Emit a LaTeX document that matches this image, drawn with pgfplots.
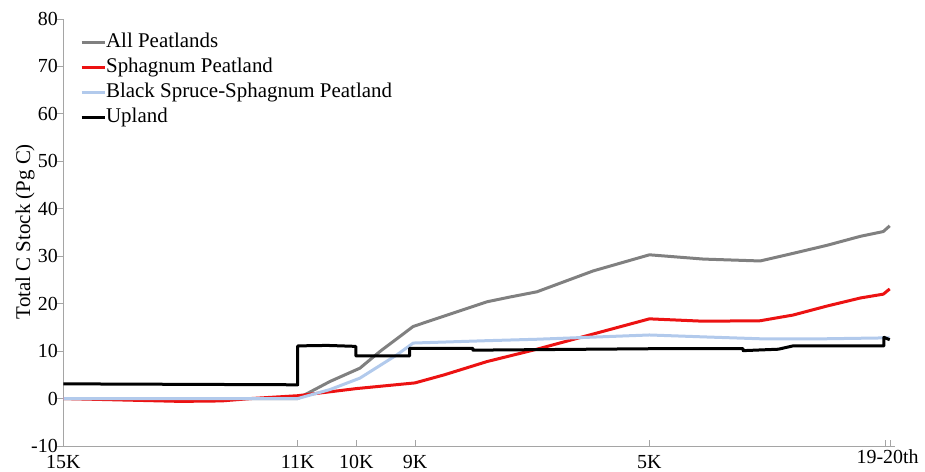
\documentclass[border=0pt]{standalone}
\usepackage{fontspec}
\setmainfont{Liberation Serif}
\usepackage{pgfplots}
\pgfplotsset{compat=1.18}
\definecolor{cgray}{RGB}{128,128,128}
\definecolor{cred}{RGB}{236,18,18}
\definecolor{cblue}{RGB}{178,202,236}
\definecolor{axgray}{RGB}{165,165,165}
\begin{document}
\begin{tikzpicture}
\begin{axis}[
  scale only axis, width=831.7bp, height=427bp,
  xmin=0, xmax=14.19, ymin=-10, ymax=80,
  axis x line*=bottom, axis y line*=left,
  axis line style={draw=axgray, line width=0.8bp},
  every axis plot/.append style={line join=round},
  tick align=outside,
  tick style={draw=axgray, line width=0.8bp},
  x tick style={yshift=6bp},
  major tick length=6bp,
  xtick={0,4,5,6,10,14.02,14.11},
  xticklabels={15K,11K,10K,9K,5K,,},
  extra x ticks={14.065}, extra x tick labels={19-20th},
  extra x tick style={major tick length=0pt},
  ytick={-10,0,10,20,30,40,50,60,70,80},
  /pgf/number format/assume math mode=true,
  tick label style={font=\fontsize{20}{22}\selectfont},
  yticklabel style={xshift=4bp},
  ylabel={Total C Stock (Pg C)},
  every axis y label/.style={at={(axis description cs:-0.046,0.502)}, rotate=90, anchor=center, font=\fontsize{21}{24}\selectfont},
  legend style={draw=none, fill=none, at={(axis description cs:0.02,0.970)}, anchor=north west, font=\fontsize{21}{24}\selectfont, inner sep=0pt, row sep=5.3bp, nodes={text height=15bp, text depth=5bp, inner sep=0pt}},
  legend cell align=left,
  legend image code/.code={\draw[#1] (0bp,0bp) -- (23bp,0bp);},
]
\addplot[cgray, line width=3bp] coordinates {
(0,0) (4,0) (4.09,0.6) (4.55,3.6) (5.06,6.4) (5.40,9.9) (5.97,15.2) (6.55,17.6) (7.23,20.4) (7.62,21.4) (8.08,22.5) (9.04,26.9) (10.0,30.3) (10.92,29.4) (11.89,29.0) (12.45,30.6) (13.03,32.3) (13.60,34.2) (13.99,35.2) (14.1,36.4)};
\addlegendentry{All Peatlands}
\addplot[cred, line width=3bp] coordinates {
(0,0) (1,-0.3) (2,-0.6) (2.7,-0.5) (3.2,0) (4,0.6) (5,2.1) (6,3.3) (6.5,5.0) (7.23,7.8) (8.08,10.4) (9.04,13.6) (10,16.8) (10.92,16.3) (11.89,16.4) (12.45,17.6) (13.03,19.5) (13.60,21.2) (13.99,22.0) (14.1,23.1)};
\addlegendentry{Sphagnum Peatland}
\addplot[cblue, line width=3bp] coordinates {
(0,0) (4,0) (4.55,1.9) (5.06,4.3) (5.69,9.2) (5.97,11.7) (7.23,12.2) (8.08,12.5) (10.0,13.4) (10.92,13.0) (11.89,12.6) (13.0,12.6) (14.1,12.8)};
\addlegendentry{Black Spruce-Sphagnum Peatland}
\addplot[black, line width=3bp] coordinates {
(0,3.1) (2,3.0) (4,2.9) (4,11.1) (4.5,11.2) (4.99,11.0) (4.99,9.0) (5.91,9.0) (5.91,10.6) (6.99,10.6) (6.99,10.2) (10,10.5) (11.6,10.5) (11.6,10.1) (12.2,10.4) (12.45,11.1) (14.0,11.1) (14.0,12.9) (14.1,12.4)};
\addlegendentry{Upland}
\end{axis}
\pgfresetboundingbox
\path (current axis.south west) ++(-63.3bp,-26bp) rectangle ++(925bp,472bp);
\end{tikzpicture}
\end{document}
